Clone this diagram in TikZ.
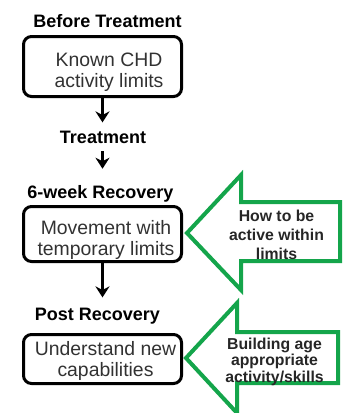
\documentclass[tikz,border=0pt]{standalone}
\usepackage{fontspec}
\setmainfont{Liberation Sans}
\usetikzlibrary{arrows.meta}
\definecolor{grn}{RGB}{20,165,75}
\definecolor{bodygray}{RGB}{50,50,50}
\begin{document}
\begin{tikzpicture}[x=1pt,y=-1pt,
  box/.style={draw=black, line width=3pt, rounded corners=8pt, minimum width=158pt, inner sep=0pt},
  stage/.style={font=\fontsize{18}{21}\selectfont\bfseries, inner sep=0pt, anchor=base},
  body/.style={font=\fontsize{19.4}{21}\selectfont, align=center, inner sep=0pt, anchor=base, text=bodygray},
  note/.style={font=\fontsize{15.8}{18.5}\selectfont\bfseries, align=center, inner sep=0pt, anchor=base, text=black!85},
  flow/.style={line width=2.8pt, -{Stealth[length=11pt,width=14pt,inset=3.5pt]}},
  bigarrow/.style={draw=grn, line width=4pt, miter limit=10}]
\useasboundingbox (0,0) rectangle (345,413);

% green arrows
\draw[bigarrow] (187,233) -- (241,175) -- (241,202) -- (340,202) -- (340,261) -- (241,261) -- (241,290) -- cycle;
\draw[bigarrow] (186,358) -- (237,303) -- (237,332) -- (338,332) -- (338,383) -- (237,383) -- (237,413) -- cycle;

% stage labels
\node[stage] (bt) at (107.5,27) {Before Treatment};
\node[stage] (tr) at (103,143) {Treatment};
\node[stage] (rec) at (100.5,198) {6-week Recovery};
\node[stage] (pr) at (97.5,320) {Post Recovery};

% boxes
\node[box, minimum height=60pt] (b1) at (102.5,66.5) {};
\node[box, minimum height=55pt] (b2) at (102.5,234) {};
\node[box, minimum height=49pt] (b3) at (102.5,359) {};

% text (anchor base = baseline of the last line)
\node[body] (b1t) at (109,87) {Known CHD\\activity limits};
\node[body] (b2t) at (106,255) {Movement with\\temporary limits};
\node[body] (b3t) at (105.5,376) {Understand new\\capabilities};

% notes
\node[note, font=\fontsize{15.8}{19}\selectfont\bfseries] (n1) at (276.5,259) {How to be\\active within\\limits};
\node[note, font=\fontsize{15.8}{16.5}\selectfont\bfseries] (n2) at (274.5,382) {Building age\\appropriate\\activity/skills};

% flow arrows
\draw[flow, shorten >=8pt] (b1.south) -- (b1.south |- tr.north);
\draw[flow, shorten <=8pt, shorten >=16pt] (b1.south |- tr.south) -- (b1.south |- rec.north);
\draw[flow, shorten >=10pt] (b2.south) -- (b2.south |- pr.north);
\end{tikzpicture}
\end{document}
